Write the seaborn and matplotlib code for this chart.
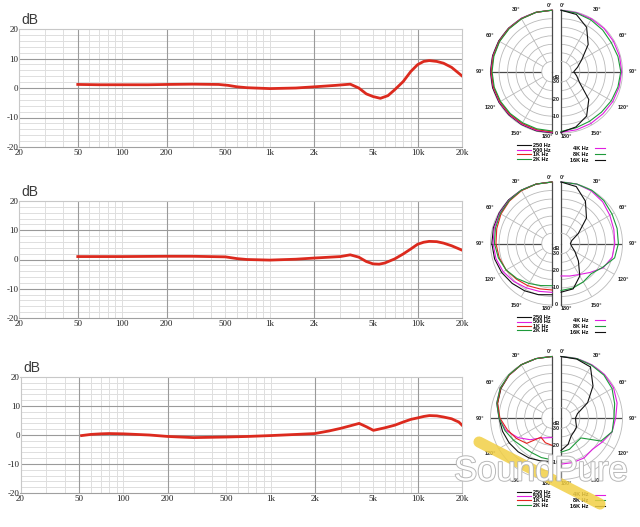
import numpy as np
import matplotlib
matplotlib.use('Agg')
import matplotlib.pyplot as plt
import matplotlib.patheffects as pe
from matplotlib import transforms
import seaborn as sns

plt.rcParams['axes.unicode_minus'] = False

# frequency response curves (Hz, dB), top to bottom
freq_top = [50, 70, 100, 150, 200, 300, 450, 520, 600, 700, 1000, 1500, 2000, 2800, 3500,
            4000, 4500, 5000, 5600, 6300, 7000, 8000, 9000, 10000, 11000, 12000, 13500,
            15000, 17000, 20000]
db_top = [1.2, 1.1, 1.1, 1.1, 1.2, 1.3, 1.2, 0.9, 0.4, 0.1, -0.2, 0.0, 0.4, 0.9, 1.3,
          0.0, -2.0, -2.9, -3.5, -2.6, -0.6, 2.2, 5.6, 7.9, 9.0, 9.3, 9.0,
          8.4, 7.0, 4.1]

freq_mid = [50, 100, 200, 300, 500, 600, 700, 1000, 1500, 2000, 3000, 3500, 4000, 4500,
            5000, 5500, 6000, 7000, 8000, 9000, 10000, 11000, 12000, 13500, 15000, 17000, 20000]
db_mid = [1.0, 1.0, 1.1, 1.1, 0.9, 0.3, 0.0, -0.2, 0.1, 0.5, 1.0, 1.6, 0.8, -0.7,
          -1.5, -1.6, -1.2, 0.2, 1.9, 3.6, 5.2, 5.9, 6.2, 6.1, 5.6, 4.7, 3.2]

freq_bot = [52, 60, 70, 80, 100, 150, 200, 300, 500, 700, 1000, 1500, 2000, 2500, 3000,
            3500, 4000, 4500, 5000, 6000, 7000, 8000, 9000, 10000, 11000, 12000, 13500,
            15000, 17000, 18000, 19000, 20000]
db_bot = [-0.2, 0.2, 0.4, 0.5, 0.4, 0.0, -0.5, -0.9, -0.7, -0.5, -0.2, 0.2, 0.5, 1.4, 2.3,
          3.2, 4.0, 2.8, 1.6, 2.5, 3.4, 4.5, 5.4, 5.9, 6.4, 6.7, 6.6,
          6.2, 5.6, 5.0, 4.5, 3.4]

freq_ticks = [20, 50, 100, 200, 500, 1000, 2000, 5000, 10000, 20000]
freq_labels = ['20', '50', '100', '200', '500', '1k', '2k', '5k', '10k', '20k']
db_ticks = [20, 10, 0, -10, -20]
db_labels = ['20', '10', '0', '-10', '-20']
dark_freqs = [50, 200, 2000, 10000]
dark_dbs = [10, 0, -10]

# polar patterns: level in dB every 15 degrees from 0 to 180
angles = [0, 15, 30, 45, 60, 75, 90, 105, 120, 135, 150, 165, 180]
spokes = [0, 30, 60, 90, 120, 150, 180]
spoke_labels = ['0°', '30°', '60°', '90°', '120°', '150°', '180°']
rings = [-25, -20, -15, -10, -5]
ring_labels = ['-30', '-20', '-10', '0']
ring_label_pos = [-30, -20, -10, 0]

low_names = ['250 Hz', '500 Hz', '1K Hz', '2K Hz']
low_colors = ['#111111', '#e01ee0', '#e3241f', '#1e9a3a']
high_names = ['4K Hz', '8K Hz', '16K Hz']
high_colors = ['#e01ee0', '#1e9a3a', '#111111']

top_250 = [0, 0, 0, 0, 0, 0, 0, 0, -0.2, -0.3, -0.3, -0.2, -0.2]
top_500 = [0, 0, 0, -0.2, -0.3, -0.3, -0.3, -0.4, -0.5, -0.6, -0.6, -0.5, -0.5]
top_1k = [0, 0, -0.2, -0.3, -0.4, -0.5, -0.5, -0.6, -0.8, -0.9, -1.0, -0.9, -0.8]
top_2k = [0, 0, -0.3, -0.5, -0.6, -0.8, -0.9, -1.0, -1.2, -1.4, -1.5, -1.4, -1.3]
top_4k = [0, -0.2, -0.3, -0.3, -0.5, -0.5, -0.5, -0.8, -1.0, -1.2, -1.0, -0.8, -0.5]
top_8k = [0, -0.5, -1.0, -1.5, -2.0, -1.5, -1.0, -1.5, -2.0, -2.5, -2.5, -2.0, -1.0]
top_16k = [0, -1.3, -6.0, -13.5, -22.0, -26.0, -28.5, -26.5, -23.5, -13.0, -6.0, -2.5, -0.5]

mid_250 = [0, 0, 0, 0, -0.3, -0.5, -0.8, -1.2, -2.0, -3.0, -4.0, -5.0, -6.0]
mid_500 = [0, 0, 0, -0.3, -0.6, -1.0, -1.5, -2.0, -3.0, -4.5, -6.0, -7.0, -7.4]
mid_1k = [0, 0, -0.3, -0.8, -1.5, -2.5, -3.2, -4.0, -5.0, -6.5, -7.5, -8.5, -8.8]
mid_2k = [0, 0, 0, -0.5, -1.0, -1.7, -2.3, -3.5, -5.0, -7.0, -9.0, -10.5, -11.3]
mid_4k = [0, 0, -0.5, -1.5, -3.0, -4.0, -4.5, -5.0, -7.5, -12.0, -15.0, -16.3, -17.0]
mid_8k = [0, 0, 0, -0.5, -1.5, -2.0, -2.4, -3.5, -8.0, -11.0, -10.0, -9.0, -8.5]
mid_16k = [0, -1.5, -7.4, -14.9, -24.3, -29.5, -30.5, -29.5, -26.6, -21.6, -14.0, -8.5, -7.5]

bot_250 = [0, 0, 0, -0.5, -1.5, -3.0, -5.0, -6.0, -7.0, -8.0, -9.0, -10.0, -10.5]
bot_500 = [0, 0, 0, -0.5, -1.0, -2.5, -5.0, -8.0, -13.0, -18.0, -22.5, -24.0, -24.6]
bot_1k = [0, 0, 0, -0.5, -1.2, -3.0, -5.5, -9.0, -12.0, -15.0, -23.0, -21.0, -20.0]
bot_2k = [0, 0, 0, -0.3, -1.0, -2.5, -5.0, -7.5, -10.0, -12.0, -12.5, -12.0, -11.5]
bot_4k = [0, 0, 0, 0, -0.5, -2.0, -4.0, -5.0, -8.0, -10.0, -9.0, -9.0, -9.0]
bot_8k = [0, 0, -0.3, -0.5, -1.5, -3.5, -5.0, -5.0, -9.0, -19.5, -19.0, -17.0, -16.0]
bot_16k = [0, -0.3, -1.5, -9.5, -18.0, -26.0, -27.5, -27.0, -25.5, -25.0, -24.0, -20.0, -17.0]

RED = '#dc2a1e'
W, H = 640, 527
fig = plt.figure(figsize=(6.4, 5.27), dpi=100)
small = dict(fontsize=4, weight='bold', family='Liberation Sans', color='#222222')


def rect(x0, y0, x1, y1):
    return [x0 / W, 1 - y1 / H, (x1 - x0) / W, (y1 - y0) / H]


def response(box, freqs, dbs):
    ax = fig.add_axes(rect(*box))
    ax.set_xscale('log')
    minor = [m * d for d in (10, 100, 1000) for m in range(2, 10)] + [10000, 20000]
    ax.set_xticks(freq_ticks)
    ax.set_xticklabels(freq_labels)
    ax.set_xticks(minor, minor=True)
    ax.set_yticks(db_ticks)
    ax.set_yticklabels(db_labels)
    ax.set_yticks(list(range(-20, 21, 2)), minor=True)
    ax.xaxis.set_minor_formatter(matplotlib.ticker.NullFormatter())
    ax.grid(which='both', color='#dedede', lw=0.7)
    for f in dark_freqs:
        ax.axvline(f, color='#9a9a9a', lw=0.8, zorder=1)
    for d in dark_dbs:
        ax.axhline(d, color='#9a9a9a', lw=0.8, zorder=1)
    ax.set_axisbelow(True)
    sns.lineplot(x=freqs, y=dbs, ax=ax, color=RED, lw=2.0, zorder=3)
    ax.set_xlim(20, 20000)
    ax.set_ylim(-20, 20)
    ax.set_xlabel('')
    ax.set_ylabel('')
    ax.tick_params(which='both', length=0, labelsize=6.5, colors='#222222')
    ax.tick_params(axis='y', pad=0.5)
    ax.tick_params(axis='x', pad=1.5)
    for lab in ax.get_xticklabels() + ax.get_yticklabels():
        lab.set_family('Liberation Serif')
    for side in ['left', 'top', 'right']:
        ax.spines[side].set_color('#c8c8c8')
        ax.spines[side].set_linewidth(0.8)
    ax.spines['bottom'].set_color('#a0a0a0')
    ax.spines['bottom'].set_linewidth(0.8)
    ax.text(0.006, 1.015, 'dB', transform=ax.transAxes, ha='left', va='bottom',
            fontsize=10, color='#3a3a3a', family='Liberation Sans')
    return ax


def half_polar(cx, cy, R, side, curves, names, colors):
    # the half disc is centred inside a square box, so shift the box by R/2
    mid = cx + R / 2 if side == 'right' else cx - R / 2
    ax = fig.add_axes(rect(mid - R, cy - R, mid + R, cy + R), projection='polar')
    ax.set_theta_zero_location('N')
    ax.set_theta_direction(-1)
    if side == 'right':
        ax.set_thetamin(0)
        ax.set_thetamax(180)
        th = np.radians(angles)
        grid_deg = spokes
    else:
        ax.set_thetamin(180)
        ax.set_thetamax(360)
        th = np.radians([360 - a for a in angles])
        grid_deg = [360 - a for a in spokes]
    ax.set_rorigin(-36)
    ax.set_ylim(-30, 0)
    ax.set_yticks(rings)
    ax.set_yticklabels([])
    # 0 and 180 degree labels are placed by hand beside the diameter
    ax.set_thetagrids(grid_deg, [''] + spoke_labels[1:-1] + [''])
    ax.grid(color='#b9b9b9', lw=0.6)
    ax.xaxis.get_gridlines()[3].set_color('#4a4a4a')
    ax.xaxis.get_gridlines()[3].set_linewidth(0.9)
    ax.tick_params(axis='x', length=0, pad=0.3, labelsize=4, colors='#222222')
    for lab in ax.get_xticklabels():
        lab.set_fontweight('bold')
        lab.set_family('Liberation Sans')
    sign = 1 if side == 'right' else -1
    top_off = transforms.offset_copy(ax.transData, fig=fig, x=sign * 1.5 - (1 if sign < 0 else 0),
                                     y=4.8, units='dots')
    bot_off = transforms.offset_copy(ax.transData, fig=fig, x=sign * 5.0, y=-3.8, units='dots')
    ax.text(th[0], 0, spoke_labels[0], transform=top_off, ha='center', va='center',
            clip_on=False, **small)
    ax.text(th[-1], 0, spoke_labels[-1], transform=bot_off, ha='center', va='center',
            clip_on=False, **small)
    ax.spines['polar'].set_color('#b9b9b9')
    ax.spines['polar'].set_linewidth(0.6)
    ax.spines['inner'].set_color('#b9b9b9')
    ax.spines['inner'].set_linewidth(0.6)
    for s in ['start', 'end']:
        ax.spines[s].set_color('#4a4a4a')
        ax.spines[s].set_linewidth(0.9)
    # close the vertical diameter through the centre hole
    for t in (th[0], th[-1]):
        ax.plot([t, t], [-36, -30], color='#4a4a4a', lw=0.9, clip_on=False)
    handles = []
    for vals, name, c in zip(curves, names, colors):
        sns.lineplot(x=th, y=vals, ax=ax, color=c, lw=0.8, label=name, clip_on=False,
                     zorder=3)
        handles.append(ax.get_lines()[-1])
    ax.set_xlabel('')
    ax.set_ylabel('')
    ax.patch.set_alpha(0)
    return ax, handles


resp_boxes = [(19, 29, 462, 147), (19, 201, 462, 318), (20.5, 377, 462, 493)]
resp_data = [(freq_top, db_top), (freq_mid, db_mid), (freq_bot, db_bot)]
for box, (f, d) in zip(resp_boxes, resp_data):
    response(box, f, d)

polar_sets = [
    (71.7, [top_250, top_500, top_1k, top_2k], [top_4k, top_8k, top_16k]),
    (243.5, [mid_250, mid_500, mid_1k, mid_2k], [mid_4k, mid_8k, mid_16k]),
    (418.0, [bot_250, bot_500, bot_1k, bot_2k], [bot_4k, bot_8k, bot_16k]),
]
R = 61.5
for cy, low, high in polar_sets:
    axl, hl = half_polar(552, cy, R, 'left', low, low_names, low_colors)
    axr, hr = half_polar(561, cy, R, 'right', high, high_names, high_colors)
    off = transforms.offset_copy(axr.transData, fig=fig, x=-5.0, y=0, units='dots')
    axr.text(np.pi, -32.8, 'dB', transform=off, ha='center', va='center', clip_on=False,
             **small)
    for lab, r in zip(ring_labels, ring_label_pos):
        axr.text(np.pi, r, lab, transform=off, ha='center', va='center', clip_on=False,
                 **small)
    axl.legend(hl, low_names, loc='upper left', bbox_to_anchor=(517 / W, 1 - (cy + 71.5) / H),
               bbox_transform=fig.transFigure, frameon=False,
               prop={'size': 4, 'weight': 'bold', 'family': 'Liberation Sans'},
               handlelength=2.5, handletextpad=0.3, labelspacing=-0.1,
               borderpad=0, borderaxespad=0)
    axr.legend(hr, high_names, loc='upper right', bbox_to_anchor=(605 / W, 1 - (cy + 74.5) / H),
               bbox_transform=fig.transFigure, frameon=False, markerfirst=False,
               prop={'size': 4, 'weight': 'bold', 'family': 'Liberation Sans'},
               handlelength=1.8, handletextpad=1.2, labelspacing=0.15,
               borderpad=0, borderaxespad=0)

# SoundPure watermark
fig.add_artist(matplotlib.lines.Line2D([479 / W, 600 / W], [1 - 442 / H, 1 - 504 / H],
                                       color='#f1cf45', lw=8, alpha=0.85,
                                       solid_capstyle='round', zorder=10))
fig.text(541 / W, 1 - 471 / H, 'SoundPure', ha='center', va='center', fontsize=25,
         color='white', family='Liberation Sans', zorder=11,
         path_effects=[pe.withStroke(linewidth=1.4, foreground='#b8b8b8')])

fig.savefig('out.png', dpi=100, facecolor='white')
